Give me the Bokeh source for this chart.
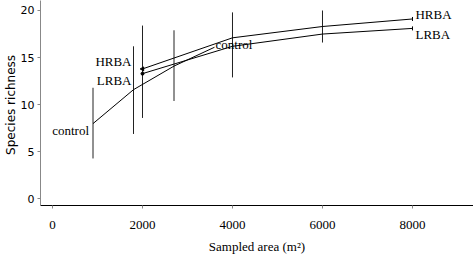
from bokeh.plotting import figure
from bokeh.models import ColumnDataSource, Range1d, FixedTicker, Label
from bokeh.core.properties import value
from bokeh.embed import file_html
from bokeh.resources import INLINE

# --- data ---
control_x = [900, 1800, 2700, 3600]
control_y = [8.0, 11.6, 14.1, 16.1]
hrba_x = [2000, 4000, 6000, 8000]
hrba_y = [13.8, 17.1, 18.3, 19.1]
lrba_x = [2000, 4000, 6000, 8000]
lrba_y = [13.3, 16.2, 17.5, 18.1]
err_x = [900, 1800, 2000, 2700, 4000, 6000]
err_low = [4.3, 6.9, 8.6, 10.4, 12.9, 16.6]
err_high = [11.8, 16.2, 18.4, 17.9, 19.8, 20.0]
x_ticks = [0, 2000, 4000, 6000, 8000]
y_ticks = [0, 5, 10, 15, 20]

SERIF = "Liberation Serif"

p = figure(width=473, height=256, output_backend="svg", toolbar_location=None,
           x_range=Range1d(-267, 9356), y_range=Range1d(-0.69, 21.06),
           min_border_left=40, min_border_right=0, min_border_top=0, min_border_bottom=51)
p.outline_line_color = None
p.grid.visible = False
p.background_fill_color = "white"
p.border_fill_color = "white"

# error bars
p.segment(x0=err_x, y0=err_low, x1=err_x, y1=err_high, line_color="#222222", line_width=1)

# series lines
p.line(control_x, control_y, line_color="black", line_width=1)
p.line(hrba_x, hrba_y, line_color="black", line_width=1)
p.line(lrba_x, lrba_y, line_color="black", line_width=1)

# small end markers
p.scatter([lrba_x[0]], [lrba_y[0]], size=3, color="black")
p.scatter([hrba_x[0]], [hrba_y[0]], marker="triangle", angle=1.5708, size=4, color="black")
p.scatter([hrba_x[-1], lrba_x[-1]], [hrba_y[-1], lrba_y[-1]], marker="dash", angle=1.5708, size=4, color="black")

# series labels
def lab(x, y, t, align, xoff, yoff):
    p.add_layout(Label(x=x, y=y, text=t, text_align=align, text_baseline="middle",
                       x_offset=xoff, y_offset=yoff, text_font=SERIF,
                       text_font_size="13px", text_color="black"))

lab(control_x[0], control_y[0], "control", "right", -4, -7)
lab(control_x[-1], control_y[-1], "control", "left", 1, 3)
lab(hrba_x[0], hrba_y[0], "HRBA", "right", -11, 7)
lab(lrba_x[0], lrba_y[0], "LRBA", "right", -11, -7)
lab(hrba_x[-1], hrba_y[-1], "HRBA", "left", 3, 4)
lab(lrba_x[-1], lrba_y[-1], "LRBA", "left", 3, -6)

# axes
p.xaxis.ticker = FixedTicker(ticks=x_ticks)
p.yaxis.ticker = FixedTicker(ticks=y_ticks)
p.xaxis.minor_tick_line_color = None
p.yaxis.minor_tick_line_color = None
p.xaxis.axis_label = "Sampled area (m²)"
p.yaxis.axis_label = "Species  richness"
p.xaxis.axis_line_color = "black"
p.yaxis.axis_line_color = "#888888"
p.yaxis.major_tick_line_color = "#888888"
p.xaxis.major_tick_line_color = "#888888"
p.xaxis.major_tick_in = 0
p.xaxis.major_tick_out = 3
p.yaxis.major_tick_in = 0
p.yaxis.major_tick_out = 3
p.xaxis.major_label_text_font = SERIF
p.xaxis.major_label_text_font_size = "13px"
p.xaxis.major_label_standoff = 12
p.xaxis.axis_label_text_font = SERIF
p.xaxis.axis_label_text_font_size = "13px"
p.xaxis.axis_label_text_font_style = "normal"
p.xaxis.axis_label_standoff = 7
p.xaxis.axis_label_text_color = "black"
p.yaxis.major_label_text_font = "DejaVu Sans"
p.yaxis.major_label_text_font_size = "11px"
p.yaxis.major_label_standoff = 3
p.yaxis.axis_label_text_font = "DejaVu Sans"
p.yaxis.axis_label_text_font_size = "12px"
p.yaxis.axis_label_text_font_style = "normal"
p.yaxis.axis_label_standoff = 0
p.yaxis.axis_label_text_color = "black"
p.xaxis.major_label_text_color = "black"
p.yaxis.major_label_text_color = "black"

open("out.html", "w").write(file_html(p, INLINE))
